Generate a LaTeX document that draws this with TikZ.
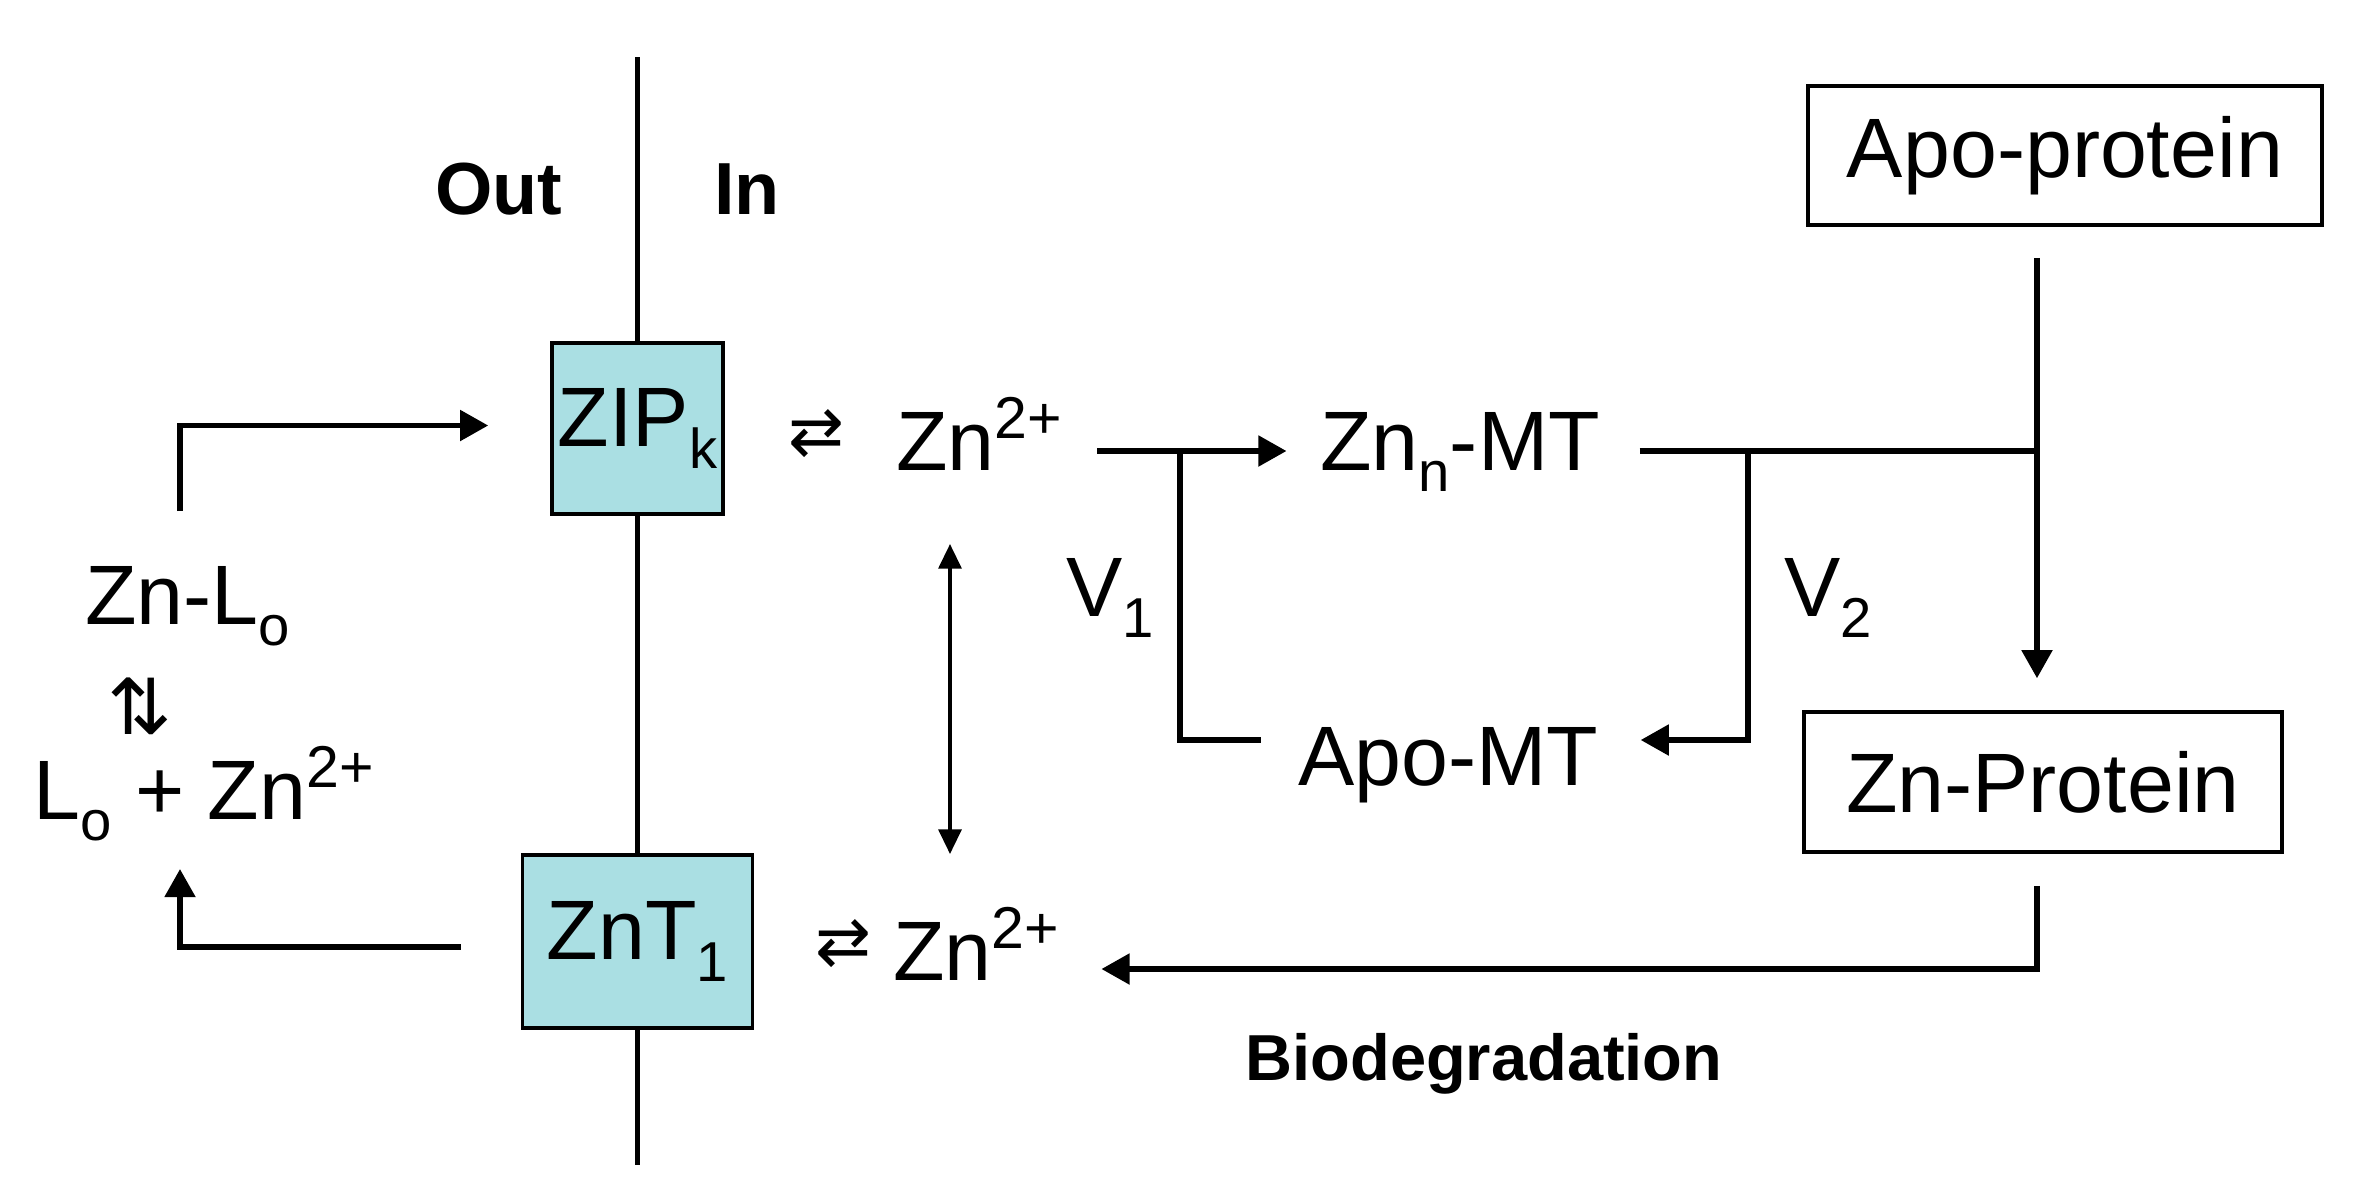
\documentclass[tikz,border=0pt]{standalone}
\usepackage{fontspec}
\setmainfont{Liberation Sans}
\newfontfamily\eqarrfont{DejaVu Sans}
\usetikzlibrary{arrows.meta, positioning}
\definecolor{pumpfill}{RGB}{170,223,227}
\newcommand{\lsub}[1]{\raisebox{-0.25em}{\fontsize{16}{18}\selectfont #1}}
\tikzstyle{lbl}   = [inner sep=0pt, anchor=base, font=\fontsize{24}{28}\selectfont]
\tikzstyle{hdr}   = [inner sep=0pt, anchor=base, font=\fontsize{21}{25}\selectfont\bfseries]
\tikzstyle{eq}    = [inner sep=0pt, font=\eqarrfont\fontsize{19}{22}\selectfont]
\tikzstyle{pump}  = [rectangle, draw=black, line width=1pt, fill=pumpfill,
                     minimum width=1.71cm, minimum height=1.71cm, inner sep=0pt,
                     font=\fontsize{24}{28}\selectfont]
\tikzstyle{pbox}  = [rectangle, draw=black, line width=1pt, fill=white,
                     inner sep=0pt, font=\fontsize{24}{28}\selectfont]
\tikzstyle{link}  = [line width=1.6pt]
\tikzstyle{arrow} = [-{Triangle[length=8pt,width=8.5pt]}, line width=1.6pt]
\tikzstyle{dbl}   = [{Triangle[length=7pt,width=6.5pt]}-{Triangle[length=7pt,width=6.5pt]}, line width=1pt]

\begin{document}
\begin{tikzpicture}
  \useasboundingbox (0,0) rectangle (23.57,-12);

  %% -- membrane --
  \node[pump] (zip) at (6.375,-4.285) {ZIP\lsub{k}};
  \node[pump, minimum width=2.30cm, minimum height=1.73cm] (znt) at (6.375,-9.415) {ZnT\lsub{1}};
  \coordinate (mtop) at (6.375,-0.57);
  \coordinate (mbot) at (6.375,-11.65);
  \draw[link] (mtop) -- (zip.north);
  \draw[link] (zip.south) -- (znt.north);
  \draw[link] (znt.south) -- (mbot);
  \node[hdr] (out) at (4.99,-2.14) {Out};
  \node[hdr] (in) at (7.47,-2.14) {In};

  %% -- inside --
  \node[lbl] (zntop) at (9.80,-4.70) {Zn\textsuperscript{2+}};
  \node[eq, left=0.50cm of zntop] (eqtop) {⇄};
  \node[lbl] (znmt) at (14.60,-4.70) {Zn\lsub{n}-MT};
  \node[lbl] (apomt) at (14.48,-7.85) {Apo-MT};
  \node[lbl] (vone) at (11.10,-6.16) {V\lsub{1}};
  \node[lbl] (vtwo) at (18.28,-6.16) {V\lsub{2}};
  \node[pbox, minimum width=5.14cm, minimum height=1.39cm] (apoprot) at (20.65,-1.555) {Apo-protein};
  \node[pbox, minimum width=4.78cm, minimum height=1.40cm] (znprot) at (20.43,-7.82) {Zn-Protein};
  \node[lbl] (znbot) at (9.77,-9.80) {Zn\textsuperscript{2+}};
  \node[eq, left=0.20cm of znbot] (eqbot) {⇄};
  \node[hdr, font=\fontsize{18.5}{22}\selectfont\bfseries] (bio) at (14.84,-10.80) {Biodegradation};

  %% -- outside --
  \node[lbl] (znlo) at (1.875,-6.24) {Zn-L\lsub{o}};
  \node[eq, font=\eqarrfont\fontsize{22}{26}\selectfont] (eqout) at (1.40,-7.06) {⇅};
  \node[lbl] (lozn) at (2.045,-8.19) {L\lsub{o} + Zn\textsuperscript{2+}};

  %% -- connectors --
  \coordinate (b1) at (11.80,-4.51);
  \coordinate (b2) at (17.48,-4.51);
  \coordinate (j2) at (20.37,-4.51);
  \coordinate (c3) at (20.37,-9.69);

  \draw[arrow] ([shift={(0.33,0.19)}]zntop.base east) -- ([shift={(-0.33,0.19)}]znmt.base west);
  \draw[link] (b1) |- ([shift={(-0.36,0.45)}]apomt.base west);
  \draw[link] ([shift={(0.39,0.19)}]znmt.base east) -- (j2);
  \draw[arrow] (b2) |- ([shift={(0.42,0.45)}]apomt.base east);
  \draw[arrow, shorten <=0.31cm, shorten >=0.32cm] (j2 |- apoprot.south) -- (j2 |- znprot.north);
  \draw[arrow, shorten <=0.32cm] (j2 |- znprot.south) -- (c3) -- ([shift={(0.40,0.11)}]znbot.base east);
  \draw[dbl] ([shift={(-0.30,-0.74)}]zntop.base) -- ([shift={(-0.27,1.26)}]znbot.base);
  \draw[arrow] ([shift={(-0.075,1.13)}]znlo.base) |- ([shift={(-0.62,0.03)}]zip.west);
  \draw[arrow] ([shift={(-0.60,-0.055)}]znt.west) -| ([shift={(-0.245,-0.50)}]lozn.base);

\end{tikzpicture}
\end{document}
